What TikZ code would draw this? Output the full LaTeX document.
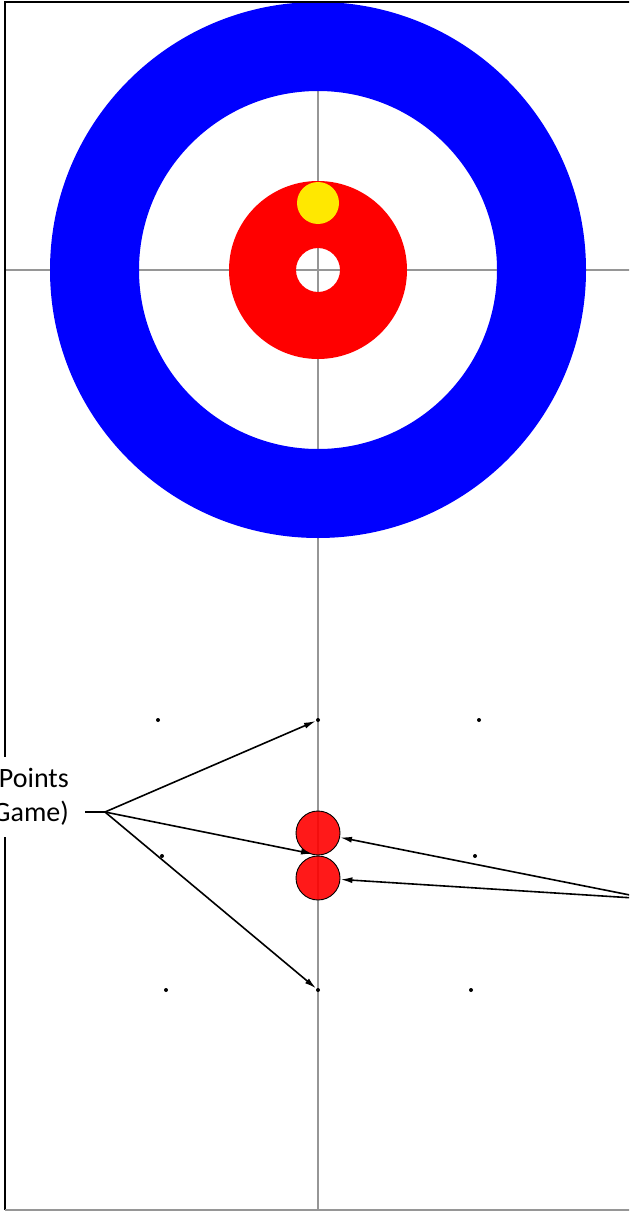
\documentclass[tikz,border=0pt]{standalone}
\usepackage{fontspec}
\setmainfont{Carlito}
\usetikzlibrary{arrows.meta}
\definecolor{ringblue}{RGB}{0,0,255}
\definecolor{ringred}{RGB}{255,0,0}
\definecolor{buttonyellow}{RGB}{255,232,0}
\definecolor{guidegray}{RGB}{150,150,150}
\tikzset{
  guide/.style={draw=guidegray, line width=1.5pt},
  dotmark/.style={circle, fill=black, inner sep=0pt, minimum size=4pt},
  stone/.style={circle, draw=black, line width=0.9pt, fill=ringred, fill opacity=0.9, draw opacity=1, inner sep=0pt, minimum size=44pt},
  yellowstone/.style={circle, fill=buttonyellow, inner sep=0pt, minimum size=42pt},
  connector/.style={draw=black, line width=1.6pt},
  arrowline/.style={connector, -{Latex[length=12pt,width=6pt]}},
  labelbox/.style={fill=white, align=right, inner xsep=3pt, inner ysep=11pt, font=\fontsize{28pt}{34pt}\selectfont}
}
\begin{document}
\begin{tikzpicture}[x=1pt,y=-1pt]
\useasboundingbox (0,0) rectangle (629,1212);
\clip (0,0) rectangle (629,1212);
% guide lines
\draw[guide] (5,270) -- (640,270);
\draw[guide] (318,2) -- (318,1210);
% house
\fill[ringblue, even odd rule] (318,270) circle[radius=268pt] (318,270) circle[radius=179pt];
\fill[ringred, even odd rule] (318,270) circle[radius=89pt] (318,270) circle[radius=22pt];
\node[yellowstone] (button) at (318,203) {};
% borders
\draw[black, line width=2pt] (5,1210) -- (5,2) -- (640,2);
\draw[guidegray, line width=1.5pt] (5,1210) -- (640,1210);
% dots
\node[dotmark] (d1) at (158,720) {};
\node[dotmark] (d2) at (318,720) {};
\node[dotmark] (d3) at (479,720) {};
\node[dotmark] (d4) at (162,856) {};
\node[dotmark] (d5) at (475,856) {};
\node[dotmark] (d6) at (166,990) {};
\node[dotmark] (d7) at (318,990) {};
\node[dotmark] (d8) at (471,990) {};
% stones
\node[stone] (s1) at (318,833) {};
\node[stone] (s2) at (318,878) {};
% label
\node[labelbox, anchor=east] (lbl) at (72,797) {Points\\Game)};
\coordinate (tail) at (85,812);
\coordinate (fork) at (105,812);
\coordinate (mid) at (313,854);
\coordinate (rsrc) at (650,899);
\draw[connector] (tail) -- (fork);
\draw[arrowline] (fork) -- (d2);
\draw[arrowline] (fork) -- (mid);
\draw[arrowline] (fork) -- (d7);
\draw[arrowline] (rsrc) -- (s1);
\draw[arrowline] (rsrc) -- (s2);
\end{tikzpicture}
\end{document}
